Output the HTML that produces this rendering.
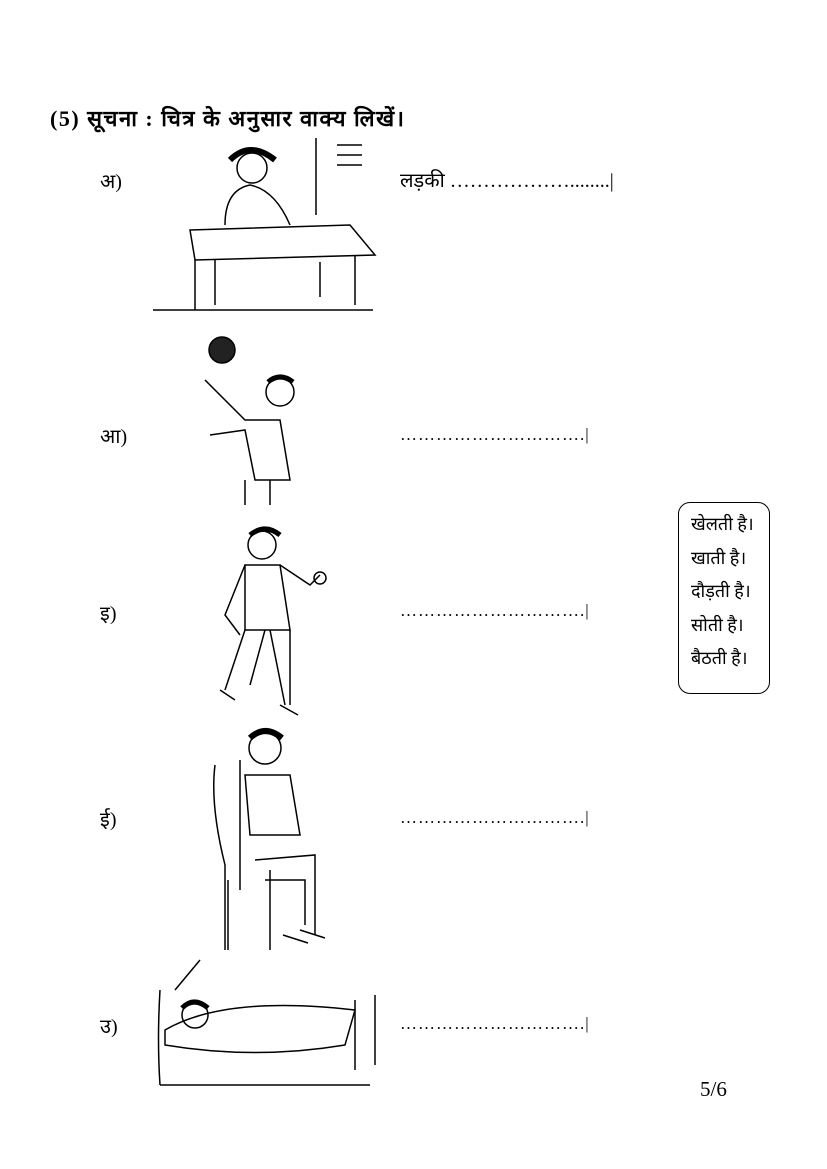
<!DOCTYPE html>
<html><head><meta charset="utf-8"><style>
html,body{margin:0;padding:0;background:#fff}
body{width:827px;height:1169px;position:relative;overflow:hidden;font-family:"Liberation Serif","DejaVu Sans",serif;color:#000}
.t{position:absolute;white-space:nowrap}
svg{position:absolute;left:0;top:0}
</style></head><body>
<div class="t" style="left:50px;top:103px;font-size:22px;font-weight:bold;letter-spacing:1.5px">(5) सूचना : चित्र के अनुसार वाक्य लिखें।</div>
<div class="t" style="left:100px;top:167px;font-size:20px">अ)</div>
<div class="t" style="left:100px;top:422px;font-size:20px">आ)</div>
<div class="t" style="left:100px;top:599px;font-size:20px">इ)</div>
<div class="t" style="left:100px;top:805px;font-size:20px">ई)</div>
<div class="t" style="left:100px;top:1012px;font-size:20px">उ)</div>
<div class="t" style="left:400px;top:166px;font-size:20px">लड़की ………………........|</div>
<div class="t" style="left:400px;top:425px;font-size:17px;letter-spacing:1px">………………………….|</div>
<div class="t" style="left:400px;top:601px;font-size:17px;letter-spacing:1px">………………………….|</div>
<div class="t" style="left:400px;top:808px;font-size:17px;letter-spacing:1px">………………………….|</div>
<div class="t" style="left:400px;top:1014px;font-size:17px;letter-spacing:1px">………………………….|</div>
<div style="position:absolute;left:678px;top:502px;width:90px;height:190px;border:1.5px solid #000;border-radius:12px"></div>
<div class="t" style="left:691px;top:508px;font-size:18px;line-height:33.5px">खेलती है।<br>खाती है।<br>दौड़ती है।<br>सोती है।<br>बैठती है।</div>
<div class="t" style="left:700px;top:1077px;font-size:21px">5/6</div>
<svg width="827" height="1169" fill="none" stroke="#000" stroke-width="1.5">
<line x1="316" y1="138" x2="316" y2="215"/>
<line x1="337" y1="145" x2="362" y2="145"/><line x1="337" y1="155" x2="362" y2="155"/><line x1="337" y1="165" x2="362" y2="165"/>
<circle cx="252" cy="168" r="15"/><path d="M230 160 q20-20 45 0" stroke-width="6"/>
<path d="M225 225 q0-35 25-40 q25 5 40 40"/>
<path d="M190 230 l160-5 l25 30 l-180 5 z"/>
<path d="M195 260 v50 M215 260 v45 M355 255 v50 M320 262 v35"/>
<path d="M153 310 h220"/>
<circle cx="222" cy="350" r="13" fill="#222"/>
<circle cx="280" cy="392" r="14"/><path d="M268 382 q12-10 25 0" stroke-width="5"/>
<path d="M205 380 l40 40 l35 0 l10 60 l-35 0 l-10-50 l-35 5"/>
<path d="M245 480 v25 M270 480 v25"/>
<circle cx="262" cy="545" r="14"/><path d="M250 535 q15-12 30 0" stroke-width="5"/>
<path d="M245 565 l-20 50 l15 20 M280 565 l30 20 l10-10"/><circle cx="320" cy="578" r="6"/>
<path d="M245 565 h35 l10 65 h-45 z"/>
<path d="M245 630 l-20 60 M265 630 l-15 55 M270 630 l15 75 M290 630 v75"/>
<path d="M220 690 l15 10 M280 705 l18 10"/>
<circle cx="265" cy="748" r="16"/><path d="M250 738 q15-14 32 0" stroke-width="6"/>
<path d="M215 765 q-5 40 10 100 v85 M240 760 v130 M228 880 v70 M270 870 v80"/>
<path d="M245 775 h45 l10 60 h-50 z"/>
<path d="M255 860 l60 -5 v80 M265 880 l40 0 v45"/>
<path d="M283 935 l25 8 M300 930 l25 8"/>
<path d="M160 990 q-3 50 0 95 M160 1085 h210 M355 1000 v70 M375 995 v70"/>
<path d="M165 1030 q60-35 190-20 l-10 35 q-90 15-180 0 z"/>
<circle cx="195" cy="1015" r="13"/><path d="M182 1008 q12-12 26 0" stroke-width="5"/>
<path d="M200 960 l-25 30"/>
</svg>
</body></html>
